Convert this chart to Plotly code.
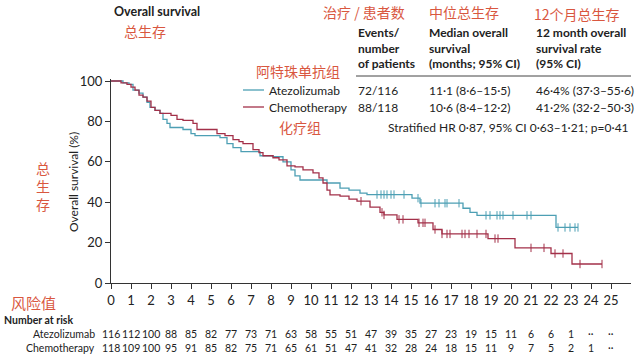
import plotly.graph_objects as go

# ---------------- data ----------------
atezo_t = [0, 0.6, 0.9, 1.1, 1.4, 1.6, 1.8, 1.95, 2.2, 2.45, 2.6, 2.8, 2.95, 3.6, 4.0, 4.2,
           5.45, 5.8, 6.1, 6.5, 7.45, 8.1, 8.6, 9.0, 9.2, 9.45, 10.8, 11.45, 11.9, 12.45,
           12.8, 15.05, 15.45, 17.6, 17.95, 18.3, 22.25, 23.35]
atezo_s = [100, 99.1, 98.3, 95.5, 94, 92, 89.5, 87, 85.5, 84, 81, 79, 77, 76, 74, 73,
           72, 69, 67, 65, 63, 62.5, 60, 56, 53, 51, 49.5, 47, 46, 44.5,
           43.8, 42, 39.5, 37, 35, 33.5, 27.5, 27.5]
atezo_cens = [13.3, 13.5, 13.65, 13.8, 14.0, 14.15, 14.65, 15.35, 15.5, 16.2, 16.4, 16.7,
              16.8, 17.4, 18.75, 18.95, 19.3, 19.45, 19.6, 20.1, 20.8, 21.0, 22.35, 22.7,
              22.95, 23.2, 23.35]

chemo_t = [0, 0.5, 0.8, 1.0, 1.2, 1.4, 1.6, 1.8, 2.0, 2.2, 2.45, 3.0, 3.3, 3.6, 4.1, 4.3,
           5.3, 5.7, 6.1, 6.4, 6.6, 7.1, 7.4, 7.6, 8.1, 8.4, 8.8, 9.2, 9.6, 10.1, 10.4,
           10.6, 10.8, 10.95, 11.45, 11.9, 12.3, 12.95, 13.45, 13.65, 14.3, 15.35, 16.1,
           16.55, 18.85, 20.2, 22.0, 23.05, 24.55]
chemo_s = [100, 99.1, 98.3, 97, 95.5, 93, 92, 90, 87, 85.5, 84, 83, 81, 80.5, 79, 76,
           74, 73, 71, 70, 69, 66, 64.5, 63, 62, 61, 58, 57.5, 56, 54.5, 52,
           49.5, 46, 43.6, 43, 41.5, 40.5, 37.6, 35, 33.7, 31.5, 29.8, 26.5,
           24.3, 22, 17.4, 14.6, 9.4, 9.4]
chemo_cens = [12.5, 13.55, 13.65, 14.4, 14.6, 15.4, 15.6, 15.7, 16.2, 16.55, 16.8, 16.95,
              17.55, 17.7, 17.9, 18.3, 18.75, 19.2, 19.35, 21.0, 21.65, 22.2, 22.6, 23.45,
              24.55]

months = list(range(0, 26))
risk_atezo = ["116", "112", "100", "88", "85", "82", "77", "73", "71", "63", "58", "55", "51",
              "47", "39", "35", "27", "23", "19", "15", "11", "6", "6", "1", "··", "··"]
risk_chemo = ["118", "109", "100", "95", "91", "85", "82", "75", "71", "65", "61", "51", "47",
              "41", "32", "28", "24", "18", "15", "11", "9", "7", "5", "2", "1", "··"]

BLUE = "#4d9fb4"
RED = "#a33049"
ORANGE = "#d9573f"
FONT = "Lato"
CJK = "Noto Sans CJK SC"


def step_at(ts, ss, x):
    v = ss[0]
    for t, s in zip(ts, ss):
        if t <= x:
            v = s
    return v


fig = go.Figure()
fig.add_trace(go.Scatter(x=atezo_t, y=atezo_s, mode="lines", line=dict(color=BLUE, width=1.3, shape="hv"),
                         showlegend=False, cliponaxis=False))
fig.add_trace(go.Scatter(x=chemo_t, y=chemo_s, mode="lines", line=dict(color=RED, width=1.3, shape="hv"),
                         showlegend=False, cliponaxis=False))
fig.add_trace(go.Scatter(x=atezo_cens, y=[step_at(atezo_t, atezo_s, c) for c in atezo_cens], mode="markers",
                         marker=dict(symbol="line-ns", size=6, line=dict(color=BLUE, width=1)),
                         showlegend=False))
fig.add_trace(go.Scatter(x=chemo_cens, y=[step_at(chemo_t, chemo_s, c) for c in chemo_cens], mode="markers",
                         marker=dict(symbol="line-ns", size=6, line=dict(color=RED, width=1)),
                         showlegend=False))

fig.update_layout(
    width=640, height=359,
    margin=dict(l=111, r=9, t=79, b=76),
    paper_bgcolor="white", plot_bgcolor="white",
    font=dict(family=FONT, color="#222", size=11),
    xaxis=dict(range=[0, 26], tickvals=months, ticktext=[str(m) for m in months],
               showgrid=False, zeroline=False, showline=True, linecolor="#333", linewidth=1,
               ticks="outside", ticklen=5, tickcolor="#333", tickfont=dict(size=13, family=FONT)),
    yaxis=dict(range=[0, 101], tickvals=[0, 20, 40, 60, 80, 100],
               showgrid=False, zeroline=False, showline=True, linecolor="#333", linewidth=1,
               ticks="outside", ticklen=5, tickcolor="#333", tickfont=dict(size=13, family=FONT)),
)

ann = []


def px_x(p):
    return (p - 111) / 520.0


def px_y(p):
    return (283 - p) / 204.0


def add(text, x, y, size=11, color="#222", xanchor="left", family=FONT, **kw):
    ann.append(dict(text=text, x=px_x(x), y=px_y(y), xref="paper", yref="paper", showarrow=False,
                    xanchor=xanchor, yanchor="middle", font=dict(size=size, color=color, family=family), **kw))


# titles
add("<b>Overall survival</b>", 112, 11, size=12.5)
add("总生存", 122, 31, size=14, color=ORANGE, family=CJK)
add("Overall survival (%)", 73, 182, size=12, xanchor="center", textangle=-90)
add("总<br>生<br>存", 43, 186, size=14, color=ORANGE, family=CJK, xanchor="center")

# table header
add("治疗 / 患者数", 321, 12, size=14, color=ORANGE, family=CJK)
add("中位总生存", 427, 12, size=14, color=ORANGE, family=CJK)
add("12个月总生存", 532, 14, size=14, color=ORANGE, family=CJK)
add("<b>Events/<br>number<br>of patients</b>", 356, 48, size=12, align="left")
add("<b>Median overall<br>survival<br>(months; 95% CI)</b>", 427, 48, size=12, align="left")
add("<b>12 month overall<br>survival rate<br>(95% CI)</b>", 534, 48, size=12, align="left")
add("阿特珠单抗组", 254, 71, size=14, color=ORANGE, family=CJK)
add("化疗组", 277, 127, size=14, color=ORANGE, family=CJK)

add("Atezolizumab", 267, 90, size=12)
add("Chemotherapy", 267, 107, size=12)
add("72/116", 356, 90, size=12)
add("88/118", 356, 107, size=12)
add("11·1 (8·6–15·5)", 427, 90, size=12)
add("10·6 (8·4–12·2)", 427, 107, size=12)
add("46·4% (37·3–55·6)", 534, 90, size=12)
add("41·2% (32·2–50·3)", 534, 107, size=12)
add("Stratified HR 0·87, 95% CI 0·63–1·21; p=0·41", 631, 127, size=12, xanchor="right")

# risk table
add("风险值", 33, 302, size=15, color=ORANGE, family=CJK, xanchor="center")
add("<b>Number at risk</b>", 2, 320, size=10.5)
add("Atezolizumab", 97, 334, size=10.5, xanchor="right")
add("Chemotherapy", 97, 348, size=10.5, xanchor="right")
for m, a, c in zip(months, risk_atezo, risk_chemo):
    ann.append(dict(text=a, x=m, y=px_y(334), xref="x", yref="paper", showarrow=False,
                    xanchor="center", yanchor="middle", font=dict(size=10.5, family=FONT, color="#222")))
    ann.append(dict(text=c, x=m, y=px_y(348), xref="x", yref="paper", showarrow=False,
                    xanchor="center", yanchor="middle", font=dict(size=10.5, family=FONT, color="#222")))

fig.update_layout(annotations=ann)

shapes = [
    dict(type="line", xref="paper", yref="paper", x0=px_x(356), x1=px_x(631), y0=px_y(76), y1=px_y(76),
         line=dict(color="#444", width=1)),
    dict(type="line", xref="paper", yref="paper", x0=px_x(243), x1=px_x(264), y0=px_y(90), y1=px_y(90),
         line=dict(color=BLUE, width=1.3)),
    dict(type="line", xref="paper", yref="paper", x0=px_x(243), x1=px_x(264), y0=px_y(107), y1=px_y(107),
         line=dict(color=RED, width=1.3)),
]
fig.update_layout(shapes=shapes)

fig.write_html("out.html", config={"displayModeBar": False},
               post_script="document.body.style.margin='0';document.body.style.overflow='hidden';")
